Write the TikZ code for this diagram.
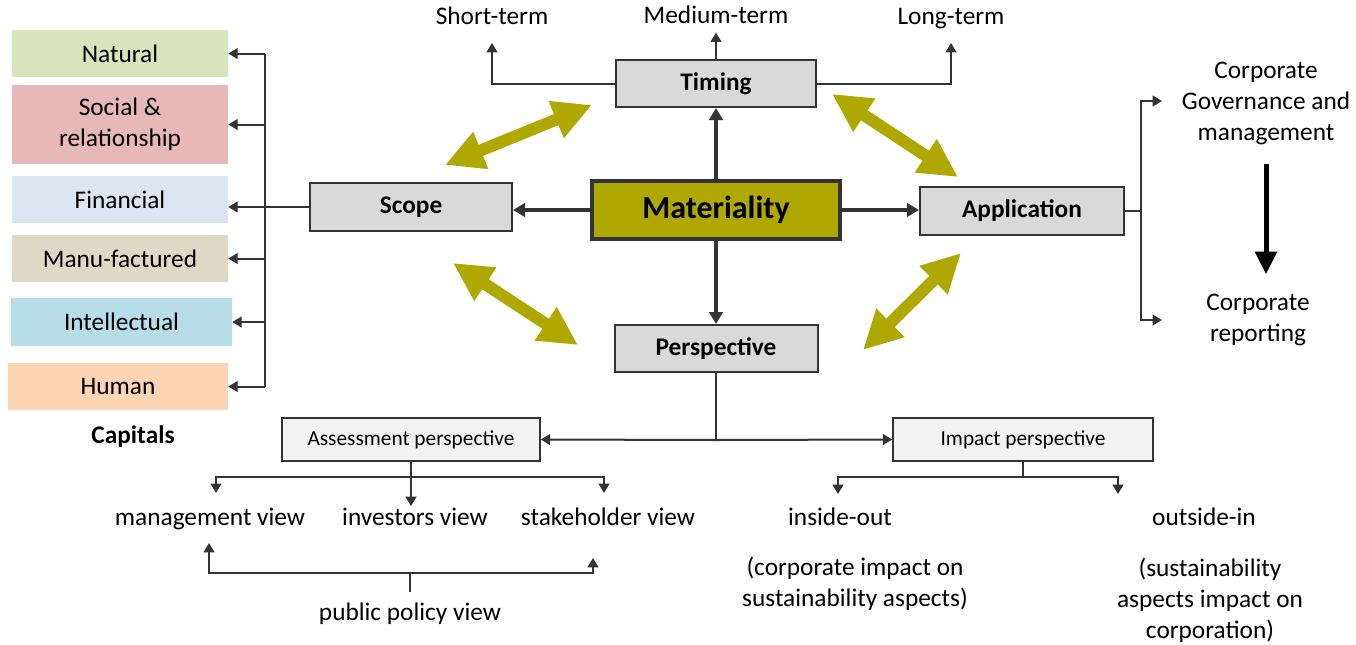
\documentclass[tikz,border=0pt]{standalone}
\usepackage{fontspec}
\setmainfont{Carlito}
\usepackage{tikz}
\usetikzlibrary{arrows.meta}

\definecolor{natgreen}{RGB}{216,228,188}
\definecolor{socred}{RGB}{230,184,183}
\definecolor{finblue}{RGB}{220,230,241}
\definecolor{mantan}{RGB}{221,217,196}
\definecolor{intblue}{RGB}{183,222,232}
\definecolor{humorange}{RGB}{252,213,180}
\definecolor{boxgray}{RGB}{217,217,217}
\definecolor{lightbox}{RGB}{242,242,242}
\definecolor{linegray}{RGB}{51,51,51}
\definecolor{matolive}{RGB}{174,168,0}

\begin{document}
\begin{tikzpicture}[x=0.75pt,y=0.75pt,yscale=-1,
  font=\fontsize{19}{23.25}\selectfont,
  capital/.style={inner sep=0pt, align=center, minimum height=35.25pt},
  box/.style={draw=linegray, line width=1.5pt, fill=boxgray, inner sep=0pt, font=\fontsize{19}{23.25}\selectfont\bfseries},
  subbox/.style={draw=linegray, line width=1.2pt, fill=lightbox, inner sep=0pt, minimum height=32.25pt, font=\fontsize{16}{19}\selectfont},
  txt/.style={inner sep=0.75pt, align=center},
  oneline/.style={txt, text height=13.5pt, text depth=4pt},
  plain/.style={draw=linegray, line width=1.5pt},
  link/.style={draw=linegray, line width=1.5pt, -{Triangle[width=8pt,length=7pt]}},
  heavylink/.style={draw=linegray, line width=2.5pt, -{Triangle[width=10pt,length=9pt]}},
  twoway/.style={draw=matolive, line width=9pt, {Triangle[width=28pt,length=29pt]}-{Triangle[width=28pt,length=29pt]}}
]
\useasboundingbox (0,0) rectangle (1356,644);

%Shape: Capitals
\node[capital, fill=natgreen, minimum width=162pt] (nat) at (120,53.5) {Natural};
\node[capital, fill=socred, minimum width=162pt, minimum height=59.25pt] (soc) at (120,124.5) {Social \&\\relationship};
\node[capital, fill=finblue, minimum width=162pt] (fin) at (120,199.5) {Financial};
\node[capital, fill=mantan, minimum width=162pt] (man) at (120,258.5) {Manu-factured};
\node[capital, fill=intblue, minimum width=165.75pt, minimum height=36pt] (int) at (121.5,322) {Intellectual};
\node[capital, fill=humorange, minimum width=165pt] (hum) at (118,386.5) {Human};
% Text Node
\node[oneline, font=\fontsize{19}{23.25}\selectfont\bfseries] (capitals) at (133,437) {Capitals};

%Shape: Rectangle
\node[box, fill=matolive, line width=3pt, minimum width=186pt, minimum height=43.5pt, font=\fontsize{24}{29}\selectfont\bfseries] (mat) at (716,210) {Materiality};
\node[box, minimum width=150pt, minimum height=35.25pt] (timing) at (716,83.5) {Timing};
\node[box, minimum width=151.5pt, minimum height=36pt] (scope) at (411,207) {Scope};
\node[box, minimum width=153pt, minimum height=36pt] (app) at (1022,211) {Application};
\node[box, minimum width=152.25pt, minimum height=35.25pt] (persp) at (716,348.5) {Perspective};
\node[subbox, minimum width=193.5pt] (assess) at (411,439.5) {Assessment perspective};
\node[subbox, minimum width=195pt] (impact) at (1023,439.5) {Impact perspective};

% Text Node
\node[oneline] (short) at (492,18) {Short-term};
\node[oneline] (medium) at (716,17) {Medium-term};
\node[oneline] (long) at (951,18) {Long-term};
\node[txt] (gov) at (1266,103) {Corporate\\Governance and\\management};
\node[txt] (rep) at (1258,320) {Corporate\\reporting};
\node[oneline] (mgmt) at (210,519) {management view};
\node[oneline] (inv) at (415,519) {investors view};
\node[oneline] (stake) at (608,519) {stakeholder view};
\node[oneline] (policy) at (410,614) {public policy view};
\node[oneline] (inout) at (840,519) {inside-out};
\node[oneline] (outin) at (1204,519) {outside-in};
\node[txt] (inoutnote) at (855,584) {(corporate impact on\\sustainability aspects)};
\node[txt] (outinnote) at (1210,600) {(sustainability\\aspects impact on\\corporation)};

% Capitals bus
\coordinate (bus) at (265,54);
\draw[plain] (bus) -- (bus |- hum.east);
\foreach \c in {nat,soc,man,int,hum}
  \draw[link] (bus |- \c.east) -- (\c.east);
\draw[link] (scope.west) -- (scope.west -| fin.east);

% Materiality arrows
\draw[heavylink] (mat.north) -- (timing.south);
\draw[heavylink] (mat.west) -- (mat.west -| scope.east);
\draw[heavylink] (mat.east) -- (mat.east -| app.west);
\draw[heavylink] (mat.south) -- (persp.north);

% Timing
\draw[link, shorten >=2pt] (timing.north) -- (medium.south);
\draw[link, shorten >=9pt] (timing.west) -| (short.south);
\draw[link, shorten >=9pt] (timing.east) -| (long.south);

% Application
\coordinate (appbus) at (1141,211);
\coordinate (govin) at (1162,101);
\coordinate (repin) at (1162,320);
\draw[plain] (app.east) -- (appbus);
\draw[link] (appbus) |- (govin);
\draw[link] (appbus) |- (repin);
\draw[draw=black, line width=3.75pt, -{Triangle[width=16pt,length=17pt]}, shorten <=14pt, shorten >=14pt] (gov.south) -- (gov.south |- rep.north);

% Perspective
\coordinate (split) at (716,440);
\draw[plain] (persp.south) -- (split);
\draw[link] (split) -- (assess.east);
\draw[link] (split) -- (impact.west);

% Assessment perspective
\coordinate (abar) at (411,477);
\coordinate (mgmtin) at (216,493);
\coordinate (stakein) at (604,493);
\draw[plain] (assess.south) -- (abar);
\draw[link] (abar) -| (mgmtin);
\draw[link] (abar) -| (stakein);
\draw[link] (abar) -- (abar |- inv.north);

% Public policy view
\coordinate (pbar) at (410,573);
\coordinate (mgmtout) at (209,543);
\coordinate (stakeout) at (593,558);
\draw[plain, shorten <=7pt] (policy.north) -- (pbar);
\draw[link] (pbar) -| (mgmtout);
\draw[link] (pbar) -| (stakeout);

% Impact perspective
\coordinate (ibar) at (1023,477);
\coordinate (inoutin) at (838,494);
\coordinate (outinin) at (1118,494);
\draw[plain] (impact.south) -- (ibar);
\draw[link] (ibar) -| (inoutin);
\draw[link] (ibar) -| (outinin);

% Double arrows
\coordinate (sta) at (445,165);
\coordinate (stb) at (592,105);
\coordinate (taa) at (832,94);
\coordinate (tab) at (958,177);
\coordinate (spa) at (453,263);
\coordinate (spb) at (578,345);
\coordinate (apa) at (961,253);
\coordinate (apb) at (863,350);
\draw[twoway] (sta) -- (stb);
\draw[twoway] (taa) -- (tab);
\draw[twoway] (spa) -- (spb);
\draw[twoway] (apa) -- (apb);
\end{tikzpicture}
\end{document}
